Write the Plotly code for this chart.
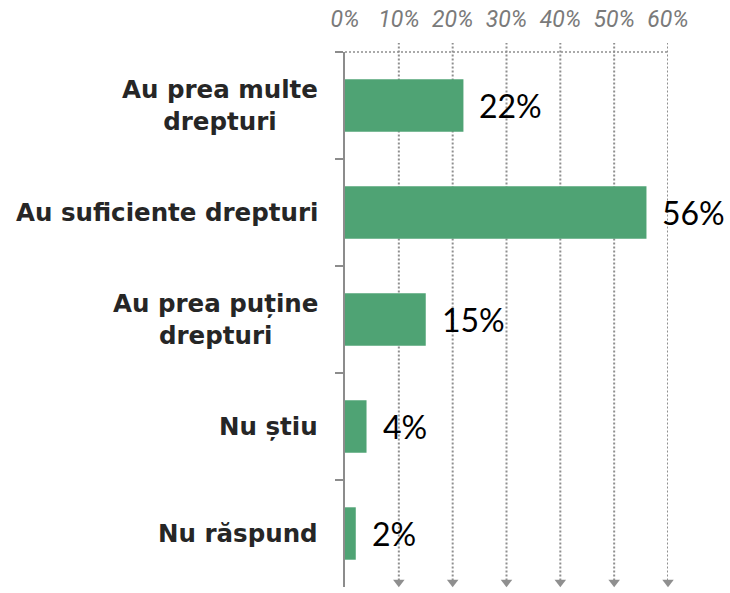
import plotly.graph_objects as go

categories = ["Au prea multe<br>drepturi", "Au suficiente drepturi", "Au prea puține<br>drepturi", "Nu știu", "Nu răspund"]
values = [22, 56, 15, 4, 2]
tick_vals = [0, 10, 20, 30, 40, 50, 60]
tick_text = ["0%", "10%", "20%", "30%", "40%", "50%", "60%"]

BAR = "#4FA374"
GRID = "#8f8f8f"
AXIS = "#8c8c8c"

fig = go.Figure()
fig.add_trace(go.Bar(
    x=values, y=categories, orientation="h",
    marker=dict(color=BAR, line=dict(width=0)),
    width=0.49, hoverinfo="skip",
))

# arrowheads at the bottom of the gridlines
fig.add_trace(go.Scatter(
    x=tick_vals[1:], y=[0.009] * (len(tick_vals) - 1), yaxis="y2",
    mode="markers", marker=dict(symbol="triangle-down", size=10, color=GRID),
    cliponaxis=False, hoverinfo="skip",
))

for v in tick_vals[1:]:
    fig.add_shape(type="line", xref="x", yref="paper", x0=v, x1=v, y0=0.012, y1=1.017,
                  line=dict(color=GRID, width=2, dash="2px,2px"), layer="below")
fig.add_shape(type="line", xref="x", yref="paper", x0=0, x1=tick_vals[-1], y0=1, y1=1,
              line=dict(color=GRID, width=1.5, dash="2px,2px"), layer="below")

for c, v in zip(categories, values):
    fig.add_annotation(x=v, y=c, xref="x", yref="y", text=f"{v}%", showarrow=False,
                       xanchor="left", xshift=14,
                       font=dict(family="Lato, sans-serif", size=32, color="#000000"))
    fig.add_annotation(x=0, y=c, xref="paper", yref="y", text=f"<b>{c}</b>", showarrow=False,
                       xanchor="right", xshift=-25, align="center",
                       font=dict(family="DejaVu Sans", size=24.5, color="#262626"))

fig.update_layout(
    width=730, height=593,
    margin=dict(l=345, r=62, t=52, b=6),
    paper_bgcolor="white", plot_bgcolor="white",
    showlegend=False,
    bargap=0.5,
    xaxis=dict(
        range=[0, 60], side="top", tickvals=tick_vals, ticktext=tick_text,
        showgrid=False, zeroline=False, showline=False, ticks="",
        tickfont=dict(family="Roboto", size=23, color="#7a7a7a", style="italic"),
        ticklabelstandoff=19, fixedrange=True, automargin=False,
    ),
    yaxis=dict(
        autorange="reversed", showticklabels=False,
        showline=True, linecolor=AXIS, linewidth=2,
        ticks="outside", tickson="boundaries", ticklen=8, tickwidth=2, tickcolor=AXIS,
        showgrid=False, zeroline=False, fixedrange=True, automargin=False,
    ),
    yaxis2=dict(overlaying="y", range=[0, 1], visible=False, fixedrange=True),
)

fig.write_html("out.html", config={"displayModeBar": False},
               post_script="document.body.style.margin='0px';")
